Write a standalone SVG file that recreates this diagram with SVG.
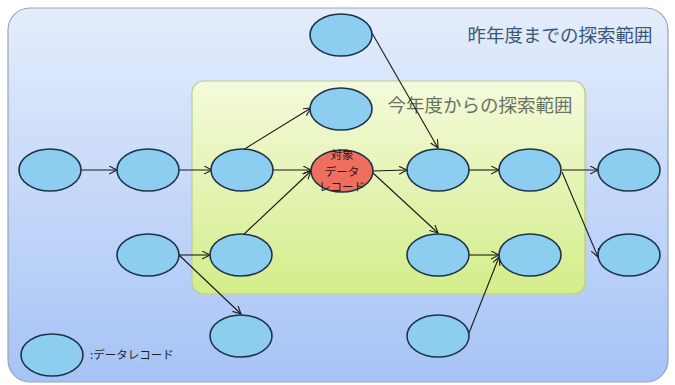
<svg xmlns="http://www.w3.org/2000/svg" width="675" height="385" viewBox="0 0 675 385">
<style>
.node{fill:#8ccdf0;stroke:#1e3248;stroke-width:1.6}
.target{fill:#ef6f5e;stroke:#1e3248;stroke-width:1.6}
.conn{stroke:#1a1a1a;stroke-width:1.1;fill:none;marker-end:url(#arr)}
.jp{font-family:"Noto Sans CJK JP","Noto Sans CJK SC",sans-serif}
</style>
<defs>
<linearGradient id="gOuter" x1="0" y1="0" x2="0" y2="1">
<stop offset="0" stop-color="#e4edfb"/>
<stop offset="1" stop-color="#a6c3f6"/>
</linearGradient>
<linearGradient id="gInner" x1="0" y1="0" x2="0" y2="1">
<stop offset="0" stop-color="#f4fadb"/>
<stop offset="1" stop-color="#d3ed8a"/>
</linearGradient>
<marker id="arr" markerWidth="10" markerHeight="10" refX="8" refY="4" orient="auto" markerUnits="userSpaceOnUse">
<path d="M0,0 L8,4 L0,8" fill="none" stroke="#1a1a1a" stroke-width="1.1"/>
</marker>
</defs>
<g id="outer-area">
<rect x="8" y="8" width="660" height="374" rx="22" fill="url(#gOuter)" stroke="#9aa3b3" stroke-width="1.2"/>
<text class="jp" x="560" y="42" font-size="18.5" fill="#3b5778" text-anchor="middle">昨年度までの探索範囲</text>
</g>
<g id="inner-area">
<rect x="194" y="83" width="393" height="213" rx="12" fill="#c7d6b0" opacity="0.5"/>
<rect x="192" y="81" width="393" height="213" rx="12" fill="url(#gInner)" stroke="#b9cd92" stroke-width="1.2"/>
<text class="jp" x="480" y="112" font-size="18.5" fill="#6a7262" text-anchor="middle">今年度からの探索範囲</text>
</g>
<g id="connectors">
<line class="conn" x1="81" y1="170" x2="117" y2="170"/>
<line class="conn" x1="179" y1="170" x2="212" y2="170"/>
<line class="conn" x1="273" y1="170" x2="311" y2="170"/>
<line class="conn" x1="243" y1="150" x2="311" y2="108"/>
<line class="conn" x1="243" y1="235" x2="311" y2="171"/>
<line class="conn" x1="179" y1="255" x2="210" y2="255"/>
<line class="conn" x1="179" y1="255" x2="241" y2="314"/>
<line class="conn" x1="372" y1="33" x2="438" y2="148"/>
<line class="conn" x1="373" y1="171" x2="407" y2="170"/>
<line class="conn" x1="373" y1="173" x2="438" y2="233"/>
<line class="conn" x1="469" y1="170" x2="499" y2="170"/>
<line class="conn" x1="562" y1="170" x2="598" y2="170"/>
<line class="conn" x1="562" y1="172" x2="598" y2="257"/>
<line class="conn" x1="469" y1="255" x2="499" y2="255"/>
<line class="conn" x1="469" y1="333" x2="499" y2="257"/>
</g>
<g id="n-a"><ellipse class="node" cx="50" cy="170" rx="31" ry="21"/></g>
<g id="n-b"><ellipse class="node" cx="148" cy="170" rx="31" ry="21"/></g>
<g id="n-c"><ellipse class="node" cx="242" cy="170" rx="31" ry="21"/></g>
<g id="n-target"><ellipse class="target" cx="342" cy="171" rx="31" ry="21"/>
<text class="jp" x="342" y="159" font-size="11.5" fill="#2e1510" text-anchor="middle">対象</text>
<text class="jp" x="342" y="176" font-size="11.5" fill="#2e1510" text-anchor="middle">データ</text>
<text class="jp" x="342" y="191" font-size="11.5" fill="#2e1510" text-anchor="middle">レコード</text>
</g>
<g id="n-d"><ellipse class="node" cx="438" cy="170" rx="31" ry="21"/></g>
<g id="n-e"><ellipse class="node" cx="530" cy="170" rx="31" ry="21"/></g>
<g id="n-f"><ellipse class="node" cx="629" cy="170" rx="31" ry="21"/></g>
<g id="n-g"><ellipse class="node" cx="148" cy="255" rx="31" ry="21"/></g>
<g id="n-h"><ellipse class="node" cx="241" cy="255" rx="31" ry="21"/></g>
<g id="n-i"><ellipse class="node" cx="438" cy="255" rx="31" ry="21"/></g>
<g id="n-j"><ellipse class="node" cx="530" cy="255" rx="31" ry="21"/></g>
<g id="n-k"><ellipse class="node" cx="629" cy="255" rx="31" ry="21"/></g>
<g id="n-top1"><ellipse class="node" cx="341" cy="35" rx="31" ry="21"/></g>
<g id="n-top2"><ellipse class="node" cx="341" cy="109" rx="31" ry="21"/></g>
<g id="n-bot1"><ellipse class="node" cx="241" cy="336" rx="31" ry="21"/></g>
<g id="n-bot2"><ellipse class="node" cx="438" cy="336" rx="31" ry="21"/></g>
<g id="legend">
<ellipse class="node" cx="52" cy="355" rx="31" ry="21"/>
<text class="jp" x="90" y="359" font-size="11.5" fill="#222">:データレコード</text>
</g>
</svg>
